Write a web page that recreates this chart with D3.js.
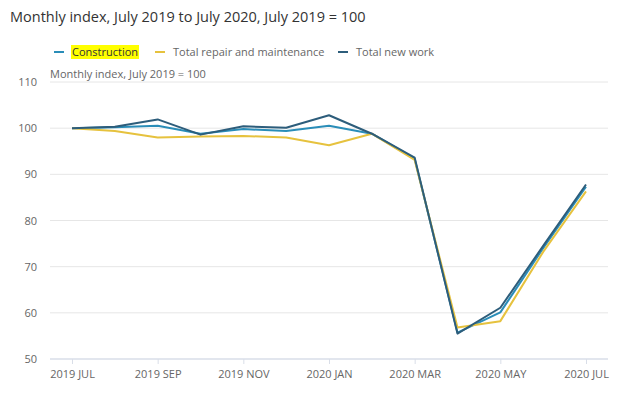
<!DOCTYPE html>
<html>
<head>
<meta charset="utf-8">
<script src="https://cdn.jsdelivr.net/npm/d3@7"></script>
<style>
  body { margin: 0; background: #fff; font-family: "Open Sans", sans-serif; }
  svg { display: block; }
</style>
</head>
<body>
<svg id="chart"></svg>
<script>
// months on the x axis, July 2019 .. July 2020
const months = ['2019 JUL', '2019 AUG', '2019 SEP', '2019 OCT', '2019 NOV', '2019 DEC',
  '2020 JAN', '2020 FEB', '2020 MAR', '2020 APR', '2020 MAY', '2020 JUN', '2020 JUL'];
const tickLabels = ['2019 JUL', '2019 SEP', '2019 NOV', '2020 JAN', '2020 MAR', '2020 MAY', '2020 JUL'];
const yTicks = [50, 60, 70, 80, 90, 100, 110];

const seriesNames = ['Construction', 'Total repair and maintenance', 'Total new work'];
const construction = [100, 100.2, 100.5, 98.8, 99.8, 99.4, 100.5, 98.8, 93.4, 55.7, 60.1, 74.0, 87.3];
const repair = [100, 99.4, 98.0, 98.2, 98.3, 98.0, 96.3, 98.8, 93.1, 56.8, 58.2, 73.2, 86.3];
const newWork = [100, 100.3, 101.9, 98.6, 100.4, 100.1, 102.8, 98.8, 93.6, 55.5, 61.1, 74.5, 87.8];

const colors = ['#2a8db8', '#e6c23e', '#2d5d7b'];

const W = 625, H = 395;
const margin = {top: 82, right: 39, bottom: 36, left: 72};

const svg = d3.select('#chart').attr('width', W).attr('height', H);

svg.append('text')
  .attr('x', 10).attr('y', 22)
  .style('font-size', '14.5px').style('fill', '#333')
  .text('Monthly index, July 2019 to July 2020, July 2019 = 100');

const x = d3.scalePoint().domain(months).range([margin.left, W - margin.right]);
const y = d3.scaleLinear().domain([50, 110]).range([H - margin.bottom, margin.top]);

// gridlines
svg.append('g').selectAll('line')
  .data(yTicks.filter(d => d > 50))
  .join('line')
  .attr('x1', 50).attr('x2', 608)
  .attr('y1', d => y(d)).attr('y2', d => y(d))
  .attr('stroke', '#e6e6e6').attr('stroke-width', 1);

// y labels
svg.append('g').selectAll('text')
  .data(yTicks)
  .join('text')
  .attr('x', 37).attr('y', d => y(d) + 4)
  .attr('text-anchor', 'end')
  .style('font-size', '11px').style('fill', '#666')
  .text(d => d);

svg.append('text')
  .attr('x', 50).attr('y', 78)
  .style('font-size', '11px').style('fill', '#666')
  .text('Monthly index, July 2019 = 100');

// x axis
const xAxis = svg.append('g')
  .attr('transform', `translate(0, ${y(50)})`)
  .call(d3.axisBottom(x).tickValues(tickLabels).tickSize(5).tickPadding(6));
xAxis.select('.domain').remove();
xAxis.selectAll('.tick line').attr('stroke', '#d9dee8');
xAxis.selectAll('.tick text')
  .style('font-family', '"Open Sans", sans-serif')
  .style('font-size', '11px').style('fill', '#666');
svg.append('line')
  .attr('x1', 50).attr('x2', 608)
  .attr('y1', y(50)).attr('y2', y(50))
  .attr('stroke', '#d9dee8').attr('stroke-width', 1.5);

// lines
const line = d3.line()
  .x((d, i) => x(months[i]))
  .y(d => y(d));

const allSeries = [construction, repair, newWork];
allSeries.forEach((s, i) => {
  svg.append('path')
    .datum(s)
    .attr('fill', 'none')
    .attr('stroke', colors[i])
    .attr('stroke-width', 2)
    .attr('stroke-linejoin', 'round')
    .attr('d', line);
});

// legend
const legendX = [54, 155, 338];
const legend = svg.append('g');
seriesNames.forEach((name, i) => {
  const g = legend.append('g').attr('transform', `translate(${legendX[i]}, 52)`);
  g.append('line')
    .attr('x1', 0).attr('x2', 10)
    .attr('stroke', colors[i]).attr('stroke-width', 2);
  const t = g.append('text')
    .attr('x', 18).attr('y', 4)
    .style('font-size', '11px').style('fill', '#666')
    .text(name);
  if (i === 0) {
    const bb = t.node().getBBox();
    g.insert('rect', 'text')
      .attr('x', bb.x - 1).attr('y', -7)
      .attr('width', bb.width + 2).attr('height', 14)
      .attr('fill', '#ffff00');
    t.style('fill', '#333');
  }
});
</script>
</body>
</html>
